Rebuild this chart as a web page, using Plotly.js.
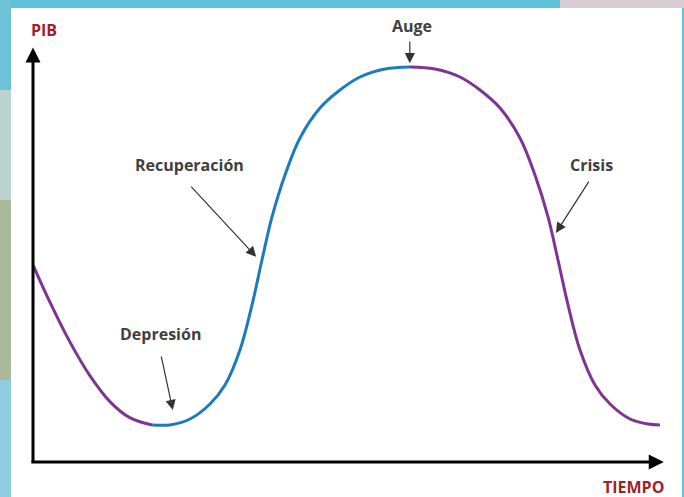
<!DOCTYPE html>
<html>
<head>
<meta charset="utf-8">
<script src="https://cdn.plot.ly/plotly-3.0.1.min.js"></script>
<style>html,body{margin:0;padding:0;background:#fff;}#chart{width:684px;height:497px;}</style>
</head>
<body>
<div id="chart"></div>
<script>
// Phase: Depresión (falling, purple)
const tiempoCaida1 = [0, 2.7, 5.9, 9.1, 12.3, 15.5, 19.0];
const pibCaida1    = [47.8, 38.8, 29.1, 20.9, 14.6, 10.7, 9.0];
// Phase: Recuperación → Auge (rising, blue)
const tiempoSubida = [19.0, 21.85, 25.04, 28.23, 30.62, 33.01, 34.93, 36.52, 38.12, 40.19, 42.58, 45.77, 48.96, 52.15, 56.14, 60.13];
const pibSubida    = [9.0, 9.0, 10.44, 14.08, 18.69, 27.18, 38.11, 49.03, 59.47, 69.66, 78.64, 85.92, 90.29, 93.45, 95.39, 95.87];
// Phase: Crisis (falling, purple)
const tiempoCaida2 = [60.13, 64.11, 68.10, 71.29, 74.48, 77.67, 80.06, 82.14, 83.73, 85.33, 87.24, 89.63, 92.03, 95.22, 98.09, 100];
const pibCaida2    = [95.87, 95.39, 93.45, 90.29, 85.92, 78.64, 69.66, 59.47, 49.03, 38.11, 27.18, 18.69, 14.08, 10.44, 9.22, 8.98];

const fases = ['Depresión', 'Recuperación', 'Auge', 'Crisis'];
const ejeY = 'PIB';
const ejeX = 'TIEMPO';

const purple = '#7e3592';
const blue = '#1c7bbd';

const traces = [
  {x: tiempoCaida1, y: pibCaida1, mode: 'lines', line: {color: purple, width: 3, shape: 'spline'}, hoverinfo: 'skip'},
  {x: tiempoSubida, y: pibSubida, mode: 'lines', line: {color: blue, width: 3, shape: 'spline'}, hoverinfo: 'skip'},
  {x: tiempoCaida2, y: pibCaida2, mode: 'lines', line: {color: purple, width: 3, shape: 'spline'}, hoverinfo: 'skip'}
];

const labelFont = {family: 'Open Sans, sans-serif', size: 16, color: '#3f3f3f', weight: 700};
const redFont = {family: 'Open Sans, sans-serif', size: 16, color: '#a3202a', weight: 700};

function label(t, x, y, font) {
  return {text: '<b>' + t + '</b>', x: x, y: y, xref: 'x', yref: 'y', showarrow: false, font: font, xanchor: 'center', yanchor: 'middle'};
}
function arrow(x, y, ax, ay, width, size, color) {
  return {text: '', x: x, y: y, ax: ax, ay: ay, xref: 'x', yref: 'y', axref: 'x', ayref: 'y',
          showarrow: true, arrowhead: 2, arrowwidth: width, arrowsize: size, arrowcolor: color, standoff: 0, startstandoff: 0};
}

const annotations = [
  label(ejeY, 1.7, 104.9, redFont),
  label(ejeX, 95.7, -6.1, redFont),
  label(fases[2], 60.4, 105.9, labelFont),
  label(fases[1], 25.0, 72.1, labelFont),
  label(fases[0], 20.3, 31.1, labelFont),
  label(fases[3], 89.0, 72.1, labelFont),
  // axes
  arrow(0, 100.6, 0, -0.4, 3, 1, '#000'),
  arrow(100.6, 0, -0.5, 0, 3, 1, '#000'),
  // pointers
  arrow(60.1, 96.8, 60.1, 102.4, 1.2, 1.7, '#333'),
  arrow(35.6, 49.8, 25.0, 67.2, 1.2, 1.7, '#333'),
  arrow(22.3, 12.6, 20.4, 26.0, 1.2, 1.7, '#333'),
  arrow(83.4, 55.6, 88.8, 68.4, 1.2, 1.7, '#333')
];

const shapes = [
  {type: 'rect', xref: 'paper', yref: 'paper', x0: 11/684, x1: 682/684, y0: 0, y1: 1 - 8/497, fillcolor: '#ffffff', line: {width: 0}, layer: 'below'},
  {type: 'rect', xref: 'paper', yref: 'paper', x0: 0, x1: 11/684, y0: 1 - 90/497, y1: 1, fillcolor: '#6cc3d6', line: {width: 0}, layer: 'below'},
  {type: 'rect', xref: 'paper', yref: 'paper', x0: 0, x1: 11/684, y0: 1 - 200/497, y1: 1 - 90/497, fillcolor: '#b9d3cf', line: {width: 0}, layer: 'below'},
  {type: 'rect', xref: 'paper', yref: 'paper', x0: 0, x1: 11/684, y0: 1 - 380/497, y1: 1 - 200/497, fillcolor: '#a9b99a', line: {width: 0}, layer: 'below'},
  {type: 'rect', xref: 'paper', yref: 'paper', x0: 0, x1: 11/684, y0: 0, y1: 1 - 380/497, fillcolor: '#8fcde0', line: {width: 0}, layer: 'below'},
  {type: 'rect', xref: 'paper', yref: 'paper', x0: 560/684, x1: 1, y0: 1 - 8/497, y1: 1, fillcolor: '#d9ccd2', line: {width: 0}, layer: 'below'}
];

const layout = {
  width: 684, height: 497,
  margin: {l: 0, r: 0, t: 0, b: 0},
  paper_bgcolor: '#5fc1d8',
  plot_bgcolor: 'rgba(0,0,0,0)',
  showlegend: false,
  xaxis: {range: [-33/6.27, (684-33)/6.27], visible: false, fixedrange: true},
  yaxis: {range: [-35/4.12, 462/4.12], visible: false, fixedrange: true},
  annotations: annotations,
  shapes: shapes
};

Plotly.newPlot('chart', traces, layout, {displayModeBar: false, staticPlot: true});
</script>
</body>
</html>
